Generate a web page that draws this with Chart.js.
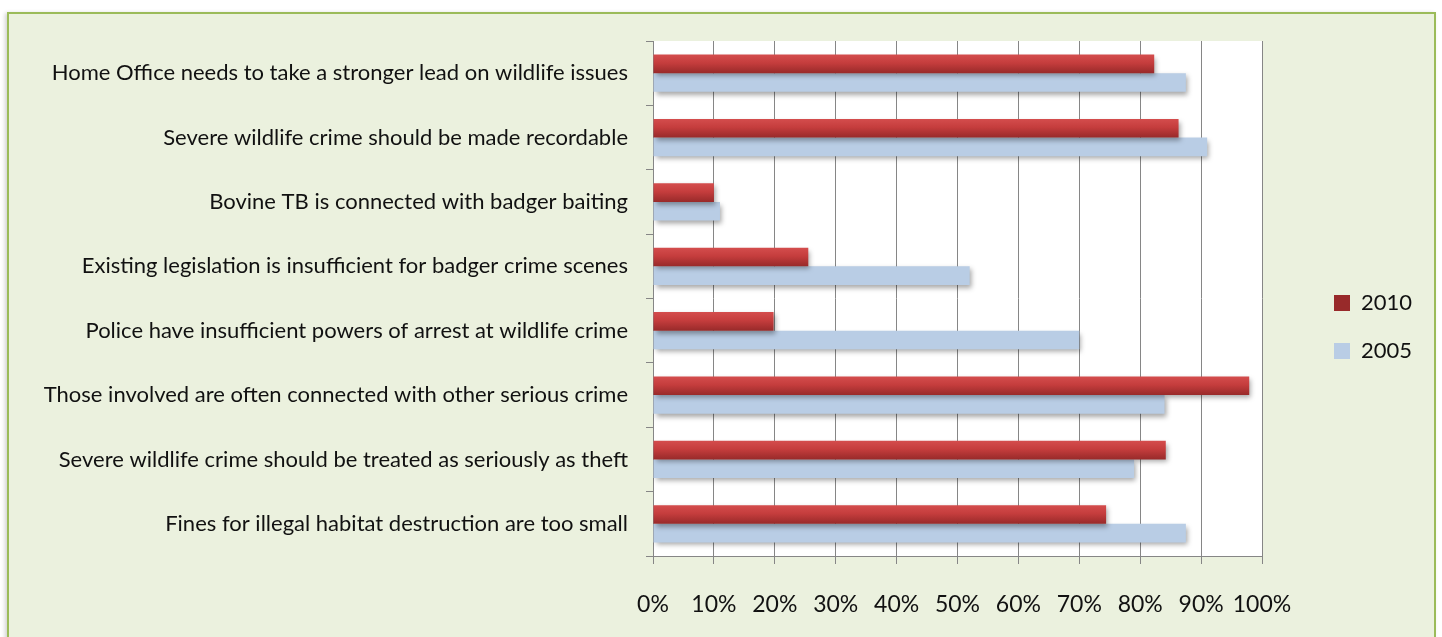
<!DOCTYPE html>
<html><head><meta charset="utf-8">
<script src="https://cdn.jsdelivr.net/npm/chart.js@4.4.1/dist/chart.umd.min.js"></script>
<style>
html,body{margin:0;padding:0;background:#ffffff;overflow:hidden;width:1442px;height:637px;}
#frame{position:absolute;left:7px;top:12px;width:1425px;height:640px;background:#ebf1de;border:2px solid #9bbb59;box-shadow:-2px 1px 4px rgba(0,0,0,0.18);}
#c{position:absolute;left:0;top:0;width:1442px;height:637px;}
</style></head><body>
<div id="frame"></div>
<canvas id="c" width="1442" height="637"></canvas>
<script>
// ---- data ----
const categories = [
  "Home Office needs to take a stronger lead on wildlife issues",
  "Severe wildlife crime should be made recordable",
  "Bovine TB is connected with badger baiting",
  "Existing legislation is insufficient for badger crime scenes",
  "Police have insufficient powers of arrest at wildlife crime",
  "Those involved are often connected with other serious crime",
  "Severe wildlife crime should be treated as seriously as theft",
  "Fines for illegal habitat destruction are too small"
];
const seriesNames = ["2010", "2005"];
const values2010 = [82.3, 86.3, 10, 25.5, 19.8, 97.9, 84.2, 74.4];
const values2005 = [87.5, 91, 11, 52, 70, 84, 79, 87.5];
const xMin = 0, xMax = 100, xStep = 10;

// ---- style ----
const FONT = "Lato";
const TEXT = "#111111";
const GRID = "#868686";
const CAT_PCT = 0.58;
const LEG_FONT = 22, LEG_BOX = 16, LEG_PAD = 26;

const mctx = document.createElement('canvas').getContext('2d');
mctx.font = LEG_FONT + "px " + FONT;
const legTextW = Math.max(...seriesNames.map(s => mctx.measureText(s).width));
const itemW = LEG_BOX + LEG_FONT / 2 + legTextW;
const PLOT_RIGHT = 1261, LEG_X = 1333;
const padW = (LEG_X - PLOT_RIGHT) - LEG_PAD;
const padRight = 1442 - PLOT_RIGHT - padW - (LEG_PAD + itemW) - 11;

function redFill(ctx) {
  const chart = ctx.chart, y = chart.scales && chart.scales.y;
  if (ctx.type !== 'data' || !y || y.bottom === undefined) return '#c0393b';
  const center = y.getPixelForValue(ctx.dataIndex);
  const catH = (y.bottom - y.top) / categories.length;
  const t = catH * CAT_PCT / 2;
  const g = chart.ctx.createLinearGradient(0, center - t, 0, center);
  g.addColorStop(0, '#d44d4d');
  g.addColorStop(0.45, '#c53d3d');
  g.addColorStop(1, '#982a2a');
  return g;
}

const plotBgPlugin = {
  id: 'plotBg',
  beforeDraw(chart) {
    const a = chart.chartArea, c = chart.ctx;
    c.save(); c.fillStyle = '#ffffff';
    c.fillRect(a.left, a.top, a.right - a.left, a.bottom - a.top);
    c.restore();
  }
};

const shadowPlugin = {
  id: 'barShadow',
  beforeDatasetsDraw(chart) {
    const c = chart.ctx; c.save();
    c.shadowColor = 'rgba(0,0,0,0.35)';
    c.shadowBlur = 5; c.shadowOffsetX = 2; c.shadowOffsetY = 3;
  },
  afterDatasetsDraw(chart) { chart.ctx.restore(); }
};

new Chart(document.getElementById('c'), {
  type: 'bar',
  data: {
    labels: categories,
    datasets: [
      { label: seriesNames[0], data: values2010, backgroundColor: redFill, borderWidth: 0, xAxisID: 'x', yAxisID: 'y' },
      { label: seriesNames[1], data: values2005, backgroundColor: '#b9cde5', borderWidth: 0, xAxisID: 'x', yAxisID: 'y' }
    ]
  },
  options: {
    indexAxis: 'y',
    responsive: false,
    devicePixelRatio: 1,
    animation: false,
    categoryPercentage: CAT_PCT,
    barPercentage: 1,
    layout: { padding: { top: 41, right: padRight, bottom: 24, left: 0 } },
    plugins: {
      tooltip: { enabled: false },
      legend: {
        position: 'right',
        labels: { font: { family: FONT, size: LEG_FONT }, color: TEXT, boxWidth: LEG_BOX, boxHeight: LEG_BOX, padding: LEG_PAD }
      }
    },
    scales: {
      x: {
        type: 'linear', min: xMin, max: xMax,
        ticks: { stepSize: xStep, autoSkip: false, callback: v => v + '%', font: { family: FONT, size: 23 }, color: TEXT, padding: 27, maxRotation: 0 },
        grid: { color: GRID, lineWidth: 1, drawTicks: true, tickLength: 8, tickColor: GRID },
        border: { display: true, color: GRID },
        afterFit(s) { s.height = 57; }
      },
      y: {
        type: 'category', position: 'left',
        ticks: { font: { family: FONT, size: 22 }, color: TEXT, padding: 18, autoSkip: false },
        grid: { display: true, drawOnChartArea: false, drawTicks: true, tickLength: 7, color: GRID, offset: true },
        border: { display: true, color: GRID },
        afterFit(s) { s.width = 653; }
      },
      yPad: {
        type: 'category', axis: 'y', position: 'right', display: true,
        ticks: { display: false }, grid: { display: false }, border: { display: false },
        afterFit(s) { s.width = padW; }
      }
    }
  },
  plugins: [plotBgPlugin, shadowPlugin]
});
</script>
</body></html>
